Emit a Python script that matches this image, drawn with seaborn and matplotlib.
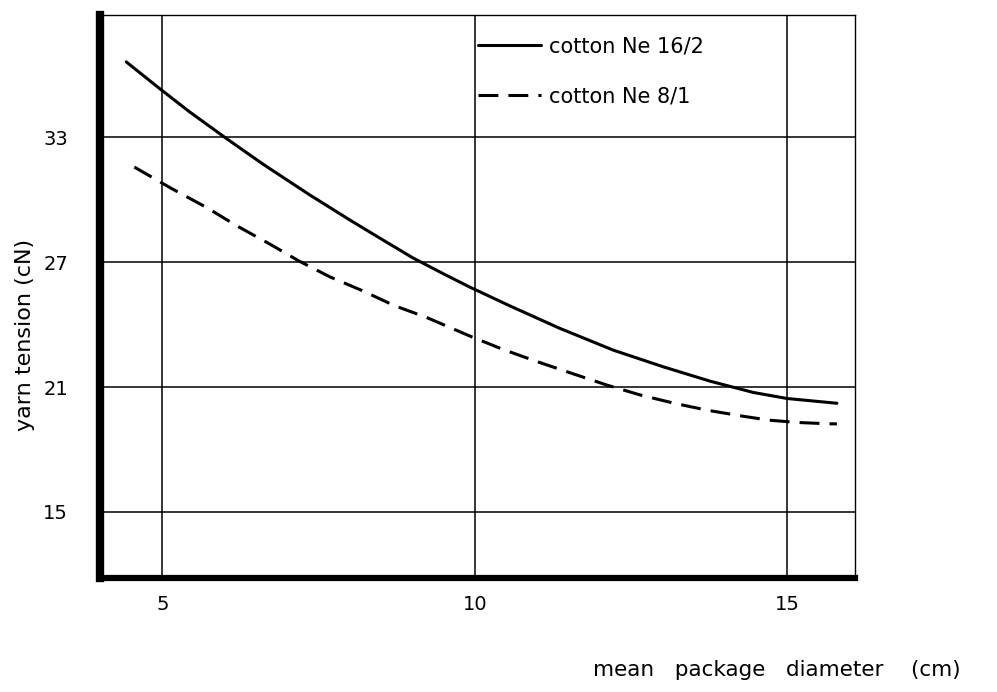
import numpy as np
import pandas as pd
import matplotlib
matplotlib.use("Agg")
import matplotlib.pyplot as plt
import seaborn as sns

# Data
series_names = ["cotton Ne 16/2", "cotton Ne 8/1"]
diam_16_2 = [4.42, 4.95, 5.43, 6.02, 6.61, 7.36, 8.0, 8.53, 9.01, 9.49, 9.92,
             10.56, 11.36, 12.22, 13.02, 13.77, 14.46, 15.0, 15.8]
tens_16_2 = [36.61, 35.34, 34.22, 32.94, 31.70, 30.22, 29.02, 28.06, 27.20, 26.45, 25.80,
             24.90, 23.82, 22.77, 21.97, 21.28, 20.74, 20.45, 20.22]
diam_8_1 = [4.55, 5.14, 5.70, 6.19, 6.71, 7.18, 7.68, 8.19, 8.72, 9.23, 9.92,
            10.44, 10.96, 11.55, 12.12, 12.66, 13.21, 13.72, 14.25, 14.71, 15.16, 15.62, 15.8]
tens_8_1 = [31.56, 30.54, 29.63, 28.74, 27.88, 27.06, 26.29, 25.64, 24.90, 24.34, 23.45,
            22.82, 22.26, 21.66, 21.09, 20.61, 20.21, 19.89, 19.62, 19.41, 19.30, 19.24, 19.23]
x_ticks = [5, 10, 15]
y_ticks = [15, 21, 27, 33]

df = pd.concat([
    pd.DataFrame({"d": diam_16_2, "t": tens_16_2, "s": series_names[0]}),
    pd.DataFrame({"d": diam_8_1, "t": tens_8_1, "s": series_names[1]}),
])

sns.set_style("white")
plt.rcParams["font.family"] = ["DejaVu Sans"]
plt.rcParams["text.color"] = "black"
plt.rcParams["xtick.color"] = "black"
plt.rcParams["ytick.color"] = "black"

fig = plt.figure(figsize=(9.97, 6.92), dpi=100)
ax = fig.add_axes([0.1003, 0.1647, 0.7573, 0.8136])

sns.lineplot(data=df, x="d", y="t", hue="s", style="s",
             palette=["black", "black"],
             dashes={series_names[0]: "", series_names[1]: (6.5, 3.3)},
             linewidth=2.2, ax=ax, sort=True, estimator=None)
for ln in ax.lines:
    ln.set_solid_joinstyle("round")
    ln.set_dash_joinstyle("round")

ax.set_xlim(4.0, 16.09)
ax.set_ylim(11.83, 38.86)
ax.set_xticks(x_ticks)
ax.set_yticks(y_ticks)
ax.set_xticklabels([str(v) for v in x_ticks], fontsize=14, color="black")
ax.set_yticklabels([str(v) for v in y_ticks], fontsize=14, color="black")
ax.tick_params(axis="x", length=0, pad=12)
ax.tick_params(axis="y", length=0, pad=23)
ax.grid(True, color="black", linewidth=1.1)
ax.set_xlabel("")
ax.set_ylabel("")

for side in ["top", "right"]:
    ax.spines[side].set_color("black")
    ax.spines[side].set_linewidth(1.0)
ax.spines["left"].set_color("black")
ax.spines["left"].set_linewidth(6)
ax.spines["bottom"].set_color("black")
ax.spines["bottom"].set_linewidth(4.5)

leg = ax.legend(loc="upper left", bbox_to_anchor=(0.49, 0.977), frameon=False,
                fontsize=15, handlelength=3.0, handletextpad=0.4,
                labelspacing=1.45, title=None, borderaxespad=0)
for t in leg.get_texts():
    t.set_color("black")

fig.text(25 / 997, 1 - 335 / 692, "yarn tension (cN)", rotation=90,
         ha="center", va="center", fontsize=16, color="black")
fig.text(777 / 997, 1 - 670 / 692, "mean   package   diameter    (cm)",
         ha="center", va="center", fontsize=15.5, color="black")

fig.savefig("out.png", dpi=100)
